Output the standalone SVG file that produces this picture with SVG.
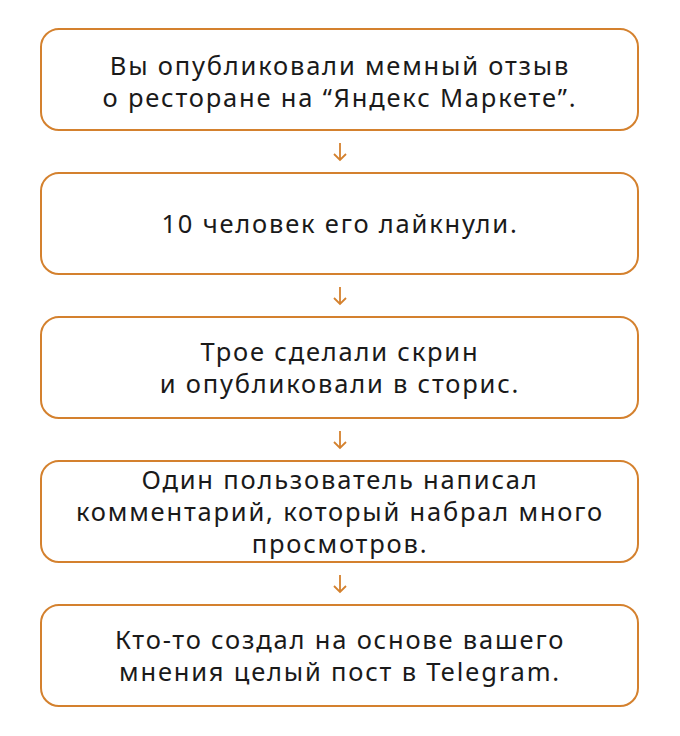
<svg xmlns="http://www.w3.org/2000/svg" width="680" height="736" viewBox="0 0 680 736">
<style>
.b{fill:#fff;stroke:#D4812E;stroke-width:2}
.t{font-family:"Noto Sans",sans-serif;font-size:25.5px;letter-spacing:1.8px;fill:#1a1a1a;text-anchor:middle}
.a{stroke:#D4812E;stroke-width:1.8;fill:none}
</style>
<rect width="680" height="736" fill="#fff"/>
<g id="n1"><rect class="b" x="41" y="29" width="597" height="101" rx="18"/><text class="t" x="340" y="75">Вы опубликовали мемный отзыв</text><text class="t" x="340" y="107">о ресторане на “Яндекс Маркете”.</text></g>
<g id="n2"><rect class="b" x="41" y="173" width="597" height="101" rx="18"/><text class="t" x="340" y="233">10 человек его лайкнули.</text></g>
<g id="n3"><rect class="b" x="41" y="317" width="597" height="101" rx="18"/><text class="t" x="340" y="361">Трое сделали скрин</text><text class="t" x="340" y="393">и опубликовали в сторис.</text></g>
<g id="n4"><rect class="b" x="41" y="461" width="597" height="101" rx="18"/><text class="t" x="340" y="489">Один пользователь написал</text><text class="t" x="340" y="521">комментарий, который набрал много</text><text class="t" x="340" y="553">просмотров.</text></g>
<g id="n5"><rect class="b" x="41" y="605" width="597" height="101" rx="18"/><text class="t" x="340" y="649">Кто-то создал на основе вашего</text><text class="t" x="340" y="681">мнения целый пост в Telegram.</text></g>
<g id="connectors">
<path class="a" d="M340 143V160M334 154L340 160L346 154"/>
<path class="a" d="M340 287V304M334 298L340 304L346 298"/>
<path class="a" d="M340 431V448M334 442L340 448L346 442"/>
<path class="a" d="M340 575V592M334 586L340 592L346 586"/>
</g>
</svg>
